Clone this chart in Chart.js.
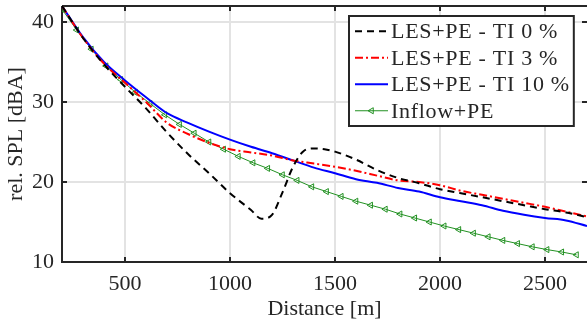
<!DOCTYPE html>
<html>
<head>
<meta charset="utf-8">
<script src="https://cdn.jsdelivr.net/npm/chart.js@4"></script>
<style>
  html, body { margin: 0; padding: 0; background: #fff; overflow: hidden; }
  #wrap { width: 587px; height: 327px; }
</style>
</head>
<body>
<div id="wrap"><canvas id="splChart" width="587" height="327"></canvas></div>
<script>
// distances [m]
const distLES = [200, 300, 400, 500, 600, 700, 800, 900, 1000, 1100, 1200, 1300, 1400,
  1500, 1600, 1700, 1800, 1900, 2000, 2100, 2200, 2300, 2400, 2500, 2600, 2700];
const distTI0 = [200, 300, 400, 500, 600, 700, 800, 900, 1000, 1100, 1150, 1200, 1250,
  1300, 1350, 1400, 1450, 1500, 1600, 1700, 1800, 1900, 2000, 2100, 2200, 2300, 2400,
  2500, 2600, 2700];
const distInflow = [200, 270, 340, 410, 480, 550, 620, 690, 760, 830, 900, 970, 1040,
  1110, 1180, 1250, 1320, 1390, 1460, 1530, 1600, 1670, 1740, 1810, 1880, 1950, 2020,
  2090, 2160, 2230, 2300, 2370, 2440, 2510, 2580, 2650];

// rel. SPL [dBA]
const splTI0 = [42.0, 38.0, 34.7, 31.9, 29.2, 26.2, 23.5, 21.1, 18.6, 16.5, 15.4, 15.9, 18.7,
  21.9, 23.85, 24.2, 24.1, 23.8, 22.8, 21.5, 20.5, 19.85, 19.1, 18.6, 18.1, 17.6, 17.1,
  16.6, 16.2, 15.6];
const splTI3 = [42.0, 38.0, 34.8, 32.4, 30.0, 27.4, 26.0, 24.9, 24.1, 23.7, 23.3, 22.7, 22.3,
  21.9, 21.4, 20.8, 20.2, 20.0, 19.6, 18.9, 18.4, 17.9, 17.4, 16.9, 16.3, 15.7];
const splTI10 = [42.0, 38.1, 35.0, 32.7, 30.6, 28.6, 27.4, 26.3, 25.3, 24.4, 23.6, 22.7, 21.8,
  21.1, 20.35, 19.9, 19.25, 18.8, 18.1, 17.6, 17.1, 16.4, 15.9, 15.5, 15.2, 14.5];
const splInflow = [41.6, 39.0, 36.6, 34.5, 32.8, 31.2, 29.8, 28.4, 27.2, 26.1, 25.0, 24.1,
  23.2, 22.4, 21.7, 20.9, 20.2, 19.4, 18.8, 18.2, 17.6, 17.1, 16.6, 16.0, 15.5, 15.0, 14.5,
  14.05, 13.6, 13.15, 12.7, 12.3, 11.9, 11.55, 11.25, 10.9];

const seriesLabels = ["LES+PE - TI 0 %", "LES+PE - TI 3 %", "LES+PE - TI 10 %", "Inflow+PE"];
const xTicks = [500, 1000, 1500, 2000, 2500];
const yTicks = [10, 20, 30, 40];

const axisColor = "#262626";
const gridColor = "#e3e3e3";
const fontFamily = "'Liberation Serif', 'Times New Roman', serif";
const fontSize = 22;

const toPoints = (xs, ys) => xs.map((x, i) => ({ x: x, y: ys[i] }));

// frame with inward tick marks (matlab style)
const framePlugin = {
  id: "frame",
  beforeDatasetsDraw(chart) {
    const { ctx, chartArea: a, scales } = chart;
    ctx.save();
    ctx.strokeStyle = axisColor;
    ctx.lineWidth = 2;
    ctx.beginPath();
    ctx.moveTo(a.left, a.top);
    ctx.lineTo(a.right, a.top);
    ctx.moveTo(a.left, a.top);
    ctx.lineTo(a.left, a.bottom);
    ctx.lineTo(a.right, a.bottom);
    const tl = 5;
    scales.x.ticks.forEach((t) => {
      const px = Math.round(scales.x.getPixelForValue(t.value));
      ctx.moveTo(px, a.bottom);
      ctx.lineTo(px, a.bottom - tl);
      ctx.moveTo(px, a.top);
      ctx.lineTo(px, a.top + tl);
    });
    scales.y.ticks.forEach((t) => {
      const py = Math.round(scales.y.getPixelForValue(t.value));
      ctx.moveTo(a.left, py);
      ctx.lineTo(a.left + tl, py);
      ctx.moveTo(a.right, py);
      ctx.lineTo(a.right - tl, py);
    });
    ctx.stroke();
    ctx.restore();
  },
};

// legend box inside the plot, top right
const legendPlugin = {
  id: "boxLegend",
  afterDraw(chart) {
    const { ctx } = chart;
    const sets = chart.data.datasets;
    const left = 349, top = 16, rowH = 26.5, sampleW = 33;
    ctx.save();
    ctx.font = fontSize + "px " + fontFamily;
    ctx.letterSpacing = "0.7px";
    let maxW = 0;
    sets.forEach((ds) => { maxW = Math.max(maxW, ctx.measureText(ds.label).width); });
    const w = 6 + sampleW + 3 + maxW + 4;
    const h = rowH * sets.length + 4;
    ctx.fillStyle = "#fff";
    ctx.fillRect(left, top, w, h);
    ctx.strokeStyle = axisColor;
    ctx.lineWidth = 2;
    ctx.strokeRect(left, top, w, h);
    sets.forEach((ds, i) => {
      const cy = top + 2 + rowH * (i + 0.5);
      const x0 = left + 6;
      ctx.save();
      ctx.strokeStyle = ds.borderColor;
      ctx.lineWidth = ds.borderWidth;
      ctx.setLineDash(ds.borderDash || []);
      ctx.beginPath();
      ctx.moveTo(x0, cy);
      ctx.lineTo(x0 + sampleW, cy);
      ctx.stroke();
      if (ds.pointRadius) {
        ctx.setLineDash([]);
        ctx.fillStyle = "rgba(0,0,0,0)";
        ctx.strokeStyle = ds.pointBorderColor;
        ctx.lineWidth = ds.pointBorderWidth;
        Chart.helpers.drawPoint(ctx, {
          pointStyle: ds.pointStyle,
          rotation: ds.pointRotation,
          radius: ds.pointRadius,
          borderWidth: ds.pointBorderWidth,
        }, x0 + sampleW / 2, cy);
      }
      ctx.restore();
      ctx.fillStyle = axisColor;
      ctx.textBaseline = "middle";
      ctx.textAlign = "left";
      ctx.fillText(ds.label, x0 + sampleW + 3, cy + 1);
    });
    ctx.restore();
  },
};

const ctx = document.getElementById("splChart").getContext("2d");

new Chart(ctx, {
  type: "line",
  data: {
    datasets: [
      {
        label: seriesLabels[0],
        data: toPoints(distTI0, splTI0),
        borderColor: "#000000",
        borderWidth: 2,
        borderDash: [7, 5],
        pointRadius: 0,
        cubicInterpolationMode: "monotone",
      },
      {
        label: seriesLabels[1],
        data: toPoints(distLES, splTI3),
        borderColor: "#ff0000",
        borderWidth: 2,
        borderDash: [8, 3, 2, 3],
        pointRadius: 0,
        cubicInterpolationMode: "monotone",
      },
      {
        label: seriesLabels[2],
        data: toPoints(distLES, splTI10),
        borderColor: "#0000ff",
        borderWidth: 2,
        pointRadius: 0,
        cubicInterpolationMode: "monotone",
      },
      {
        label: seriesLabels[3],
        data: toPoints(distInflow, splInflow),
        borderColor: "#229122",
        borderWidth: 1,
        pointStyle: "triangle",
        pointRotation: -90,
        pointRadius: 3.5,
        pointBorderWidth: 1,
        pointBorderColor: "#229122",
        pointBackgroundColor: "rgba(0,0,0,0)",
      },
    ],
  },
  options: {
    responsive: false,
    animation: false,
    layout: { autoPadding: false, padding: { top: 6, right: 0, left: 0, bottom: 0 } },
    plugins: {
      legend: { display: false },
      tooltip: { enabled: false },
    },
    scales: {
      x: {
        type: "linear",
        min: 200,
        max: 2700,
        afterBuildTicks: (scale) => { scale.ticks = xTicks.map((v) => ({ value: v })); },
        afterFit: (scale) => {
          scale.height = 65;
          scale.paddingLeft = 0;
          scale.paddingRight = 0;
        },
        grid: { color: gridColor, lineWidth: 2, drawTicks: false },
        border: { display: false },
        ticks: {
          padding: 9,
          color: axisColor,
          font: { family: fontFamily, size: fontSize },
          maxRotation: 0,
          callback: (v) => String(v),
        },
        title: {
          display: true,
          text: "Distance [m]",
          color: axisColor,
          font: { family: fontFamily, size: fontSize },
          padding: { top: 0, bottom: 5 },
        },
      },
      y: {
        min: 10,
        max: 42,
        afterBuildTicks: (scale) => { scale.ticks = yTicks.map((v) => ({ value: v })); },
        afterFit: (scale) => {
          scale.width = 62;
          scale.paddingTop = 0;
          scale.paddingBottom = 0;
        },
        grid: { color: gridColor, lineWidth: 2, drawTicks: false },
        border: { display: false },
        ticks: {
          padding: 8,
          color: axisColor,
          font: { family: fontFamily, size: fontSize },
          callback: (v) => String(v),
        },
        title: {
          display: true,
          text: "rel. SPL [dBA]",
          color: axisColor,
          font: { family: fontFamily, size: fontSize },
          padding: { top: 3, bottom: 0 },
        },
      },
    },
  },
  plugins: [framePlugin, legendPlugin],
});
</script>
</body>
</html>
